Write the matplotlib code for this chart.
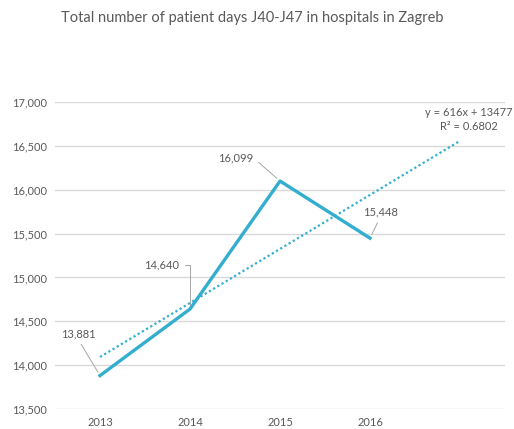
import numpy as np
import matplotlib
matplotlib.use('Agg')
import matplotlib.pyplot as plt

plt.rcParams['font.family'] = ['Lato', 'DejaVu Sans']

# data
years = ['2013', '2014', '2015', '2016']
patient_days = [13881, 14640, 16099, 15448]
y_ticks = [13500, 14000, 14500, 15000, 15500, 16000, 16500, 17000]

# label offsets (pixels) and leader anchors, by hand
label_offsets = [(-22, 42), (-28, 44), (-44, 23), (10, 26)]
label_relpos = [(0.5, 0.0), (1.0, 0.5), (1.0, 0.5), (0.5, 0.0)]

line_col = '#33AECF'
text_col = '#595959'
grid_col = '#D9D9D9'

fig = plt.figure(figsize=(5.14, 4.29), dpi=100)
ax = fig.add_axes([0.107, 0.0466, 0.8755, 0.7156])

x = np.arange(len(years))
ax.plot(x, patient_days, color=line_col, linewidth=2.4, zorder=3)

# linear trendline, forecast one period forward (Excel style x = 1..n)
xs = np.arange(1, len(years) + 1)
slope, intercept = np.polyfit(xs, patient_days, 1)
r2 = np.corrcoef(xs, patient_days)[0, 1] ** 2
xt = np.array([1, len(years) + 1])
ax.plot(xt - 1, slope * xt + intercept, color=line_col, linewidth=1.6,
        linestyle=(0, (1, 1.2)), zorder=2)
ax.text(4.1, 16800, 'y = %dx + %d\nR² = %.4f' % (round(slope), round(intercept), r2),
        ha='center', va='center', multialignment='center', fontsize=8,
        color=text_col, linespacing=1.25)

for i, v in enumerate(patient_days):
    cs = 'angle,angleA=0,angleB=90,rad=0' if i == 1 else 'arc3'
    ax.annotate('{:,}'.format(v), xy=(i, v), xytext=label_offsets[i],
                textcoords='offset pixels', ha='center', va='center',
                fontsize=8, color=text_col,
                arrowprops=dict(arrowstyle='-', color='#A6A6A6', lw=0.7,
                                shrinkA=2, shrinkB=3, relpos=label_relpos[i],
                                connectionstyle=cs))

ax.set_xlim(-0.5, 4.5)
ax.set_ylim(13500, 17000)
ax.set_xticks(x)
ax.set_xticklabels(years)
ax.set_yticks(y_ticks)
ax.set_yticklabels(['{:,}'.format(t) for t in y_ticks])
ax.tick_params(length=0, labelsize=8, labelcolor=text_col, pad=6)
ax.grid(axis='y', color=grid_col, linewidth=1)
ax.set_axisbelow(True)
for s in ax.spines.values():
    s.set_visible(False)

fig.text(0.49, 0.958, 'Total number of patient days J40-J47 in hospitals in Zagreb',
         ha='center', va='center', fontsize=10.5, color=text_col)

fig.savefig('out.png', dpi=100)
